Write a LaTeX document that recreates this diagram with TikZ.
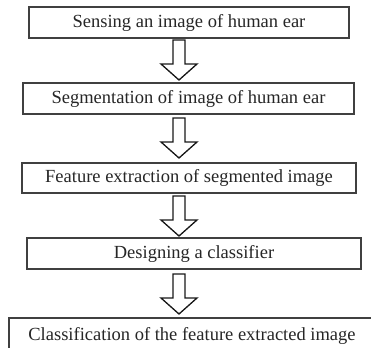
\documentclass[tikz,border=0pt]{standalone}
\usepackage{fontspec}
\setmainfont{Liberation Serif}
\begin{document}
\begin{tikzpicture}[x=1pt,y=1pt,
  stepbox/.style={draw=black!75, line width=1.1pt, fill=white, inner sep=0pt,
    font=\fontsize{18.5}{21}\selectfont, text=black!85, anchor=center},
  arrowline/.style={draw=black!90, line width=1.3pt, fill=white, line join=miter},
  blockarrow/.pic={\path[arrowline] (-6,0) -- (-6,-24) -- (-18,-24) -- (0,-40) -- (18,-24) -- (6,-24) -- (6,0) -- cycle;}
]
\useasboundingbox (0,0) rectangle (371,-347);
\clip (0,0) rectangle (371,-347);
\node[stepbox, minimum width=320, minimum height=31] (b1) at (189,-22.5) {Sensing an image of human ear};
\node[stepbox, minimum width=331, minimum height=31] (b2) at (188.5,-98.5) {Segmentation of image of human ear};
\node[stepbox, minimum width=334, minimum height=30] (b3) at (189,-178) {Feature extraction of segmented image};
\node[stepbox, minimum width=334, minimum height=31] (b4) at (194,-253.5) {Designing a classifier};
\node[stepbox, minimum width=366, minimum height=36] (b5) at (192,-336) {Classification of the feature extracted image};
\coordinate (a1) at (179,-40);
\coordinate (a2) at (179,-118);
\coordinate (a3) at (179,-196);
\coordinate (a4) at (179,-274);
\pic at (a1) {blockarrow};
\pic at (a2) {blockarrow};
\pic at (a3) {blockarrow};
\pic at (a4) {blockarrow};
\end{tikzpicture}
\end{document}
